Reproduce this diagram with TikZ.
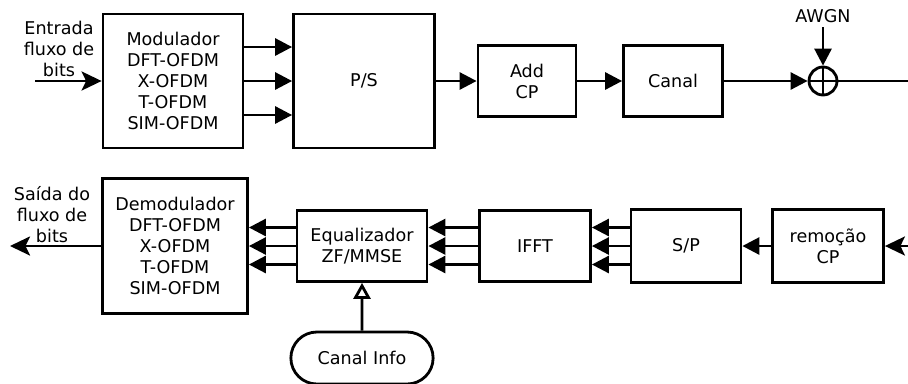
\documentclass[tikz,border=0pt]{standalone}
\usepackage{fontspec}
\setmainfont{DejaVu Sans}
\usetikzlibrary{arrows.meta}
\usetikzlibrary{shapes.misc}

\tikzset{
  blk/.style={draw, rectangle, line width=1.6pt, align=center, inner sep=0pt},
  arr/.style={line width=1.6pt, -{Triangle[length=0.34cm, width=0.34cm]}},
  arrio/.style={line width=1.6pt, -{Stealth[length=0.4cm, width=0.38cm, inset=0.09cm]}},
  arropen/.style={line width=1.6pt, -{Triangle[open, length=0.32cm, width=0.34cm]}},
}

\begin{document}
\begin{tikzpicture}[x=0.02cm, y=-0.02cm]
  \useasboundingbox (0,0) rectangle (908,383);

  % transmissor
  \node[align=center] (txin) at (59,49) {Entrada\\fluxo de\\bits};
  \coordinate (in) at (35,81);
  \node[blk, minimum width=2.8cm, minimum height=2.68cm]  (mod)   at (173,81)  {Modulador\\DFT-OFDM\\X-OFDM\\T-OFDM\\SIM-OFDM};
  \node[blk, minimum width=2.82cm, minimum height=2.68cm] (ps)    at (364,81)  {P/S};
  \node[blk, minimum width=1.96cm, minimum height=1.42cm] (addcp) at (527,81)  {Add\\CP};
  \node[blk, minimum width=1.98cm, minimum height=1.42cm] (canal) at (673,81)  {Canal};
  \node[draw, circle, line width=1.6pt, minimum size=0.56cm, inner sep=0pt] (sum) at (823,81) {};
  \draw[line width=1.6pt] (sum.north) -- (sum.south) (sum.west) -- (sum.east);
  \node (awgn) at (823,16) {AWGN};
  \coordinate (noise) at (823,27);
  \coordinate (out) at (908,81);

  \draw[arrio] (in) -- (mod.west);
  \foreach \dy in {0.68,0,-0.68}
    \draw[arr] ([yshift=\dy cm]mod.east) -- ([yshift=\dy cm]ps.west);
  \draw[arr] (ps) -- (addcp);
  \draw[arr] (addcp) -- (canal);
  \draw[arr] (canal) -- (sum);
  \draw[arr] (noise) -- (sum.north);
  \draw[line width=1.6pt] (sum.east) -- (out);

  % receptor
  \node[align=center] (rxout) at (52,215) {Saída do\\fluxo de\\bits};
  \coordinate (bitsout) at (10,246);
  \node[blk, minimum width=2.9cm, minimum height=2.7cm]   (demod) at (175,246) {Demodulador\\DFT-OFDM\\X-OFDM\\T-OFDM\\SIM-OFDM};
  \node[blk, minimum width=2.6cm, minimum height=1.42cm]  (eq)    at (362,246) {Equalizador\\ZF/MMSE};
  \node[blk, minimum width=2.22cm, minimum height=1.42cm] (ifft)  at (535,246) {IFFT};
  \node[blk, minimum width=2.2cm, minimum height=1.46cm]  (sp)    at (686,246) {S/P};
  \node[blk, minimum width=2.22cm, minimum height=1.46cm] (remcp) at (828,246) {remoção\\CP};
  \node[draw, rounded rectangle, line width=1.6pt, minimum width=3.08cm, minimum height=1.04cm] (info) at (362,358) {Canal Info};
  \coordinate (rxin) at (908,246);

  \draw[arrio] (rxin) -- (remcp.east);
  \draw[arr] (remcp) -- (sp);
  \foreach \dy in {0.37,0,-0.37} {
    \draw[arr] ([yshift=\dy cm]sp.west) -- ([yshift=\dy cm]ifft.east);
    \draw[arr] ([yshift=\dy cm]ifft.west) -- ([yshift=\dy cm]eq.east);
    \draw[arr] ([yshift=\dy cm]eq.west) -- ([yshift=\dy cm]demod.east);
  }
  \draw[arropen] (info) -- (eq);
  \draw[arrio] (demod.west) -- (bitsout);
\end{tikzpicture}
\end{document}
